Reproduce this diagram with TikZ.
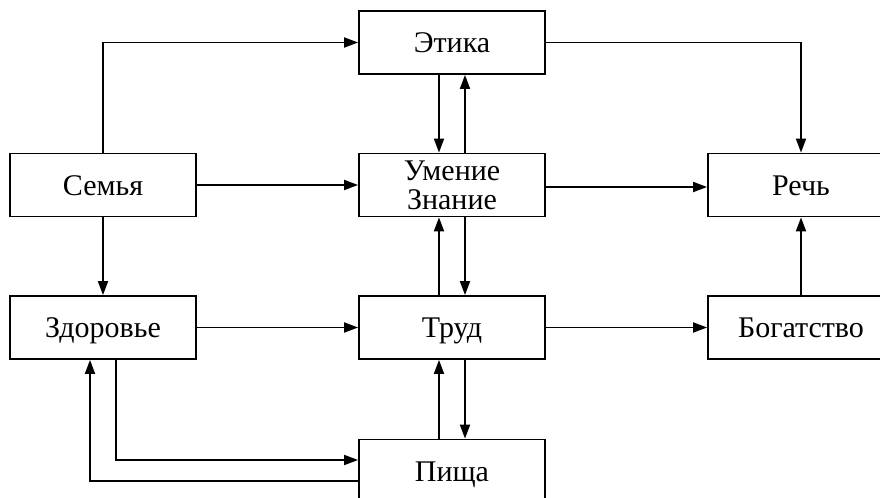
\documentclass[tikz,border=0pt]{standalone}
\usepackage{fontspec}
\setmainfont{Liberation Serif}
\usetikzlibrary{arrows.meta}
\begin{document}
\begin{tikzpicture}[x=0.5pt,y=-0.5pt,
	box/.style={draw,line width=0.9pt,minimum width=93pt,minimum height=31.5pt,inner sep=1pt,align=center,font=\fontsize{15}{14.5}\selectfont},
	one/.style={box,text height=10.5pt,text depth=0.5pt},
	arr/.style={line width=0.9pt,-{Triangle[length=7pt,width=5pt]}}]
		\useasboundingbox (0,0) rectangle (880,498);
		\def\off{6.5pt}	% half gap of the double arrows
		% boxes
			\node [one] (semya) at (103,185) {Семья};
			\node [one] (etika) at (452,42.5) {Этика};
			\node [box] (umenie) at (452,185) {Умение\\Знание};
			\node [one] (rech) at (801,185) {Речь};
			\node [one] (zdorovie) at (103,327.5) {Здоровье};
			\node [one] (trud) at (452,327.5) {Труд};
			\node [one] (bogatstvo) at (801,327.5) {Богатство};
			\node [one] (pischa) at (452,471) {Пища};
		% horizontal arrows
			\draw [arr] (semya) -- (umenie.west |- semya);
			\draw [arr] ([yshift=-1pt]umenie.east |- rech) -- ([yshift=-1pt]rech.west);
			\draw [arr] (zdorovie) -- (trud);
			\draw [arr] (trud) -- (bogatstvo);
		% vertical arrows
			\draw [arr] (semya) -- (zdorovie);
			\draw [arr] (bogatstvo) -- (rech);
			\draw [arr] (semya.north) |- (etika.west);
			\draw [arr] (etika.east) -| (rech.north);
		% double arrows of the middle column
			\draw [arr] ([xshift=-\off]etika.south) -- ([xshift=-\off]umenie.north);
			\draw [arr] ([xshift=\off]umenie.north) -- ([xshift=\off]etika.south);
			\draw [arr] ([xshift=-\off]trud.north) -- ([xshift=-\off]umenie.south);
			\draw [arr] ([xshift=\off]umenie.south) -- ([xshift=\off]trud.north);
			\draw [arr] ([xshift=-\off]pischa.north) -- ([xshift=-\off]trud.south);
			\draw [arr] ([xshift=\off]trud.south) -- ([xshift=\off]pischa.north);
		% loop between health and food
			\draw [arr] ([xshift=\off]zdorovie.south) |- ([yshift=5.5pt]pischa.west);
			\draw [arr] ([yshift=-5pt]pischa.west) -| ([xshift=-\off]zdorovie.south);
	\end{tikzpicture}
\end{document}
